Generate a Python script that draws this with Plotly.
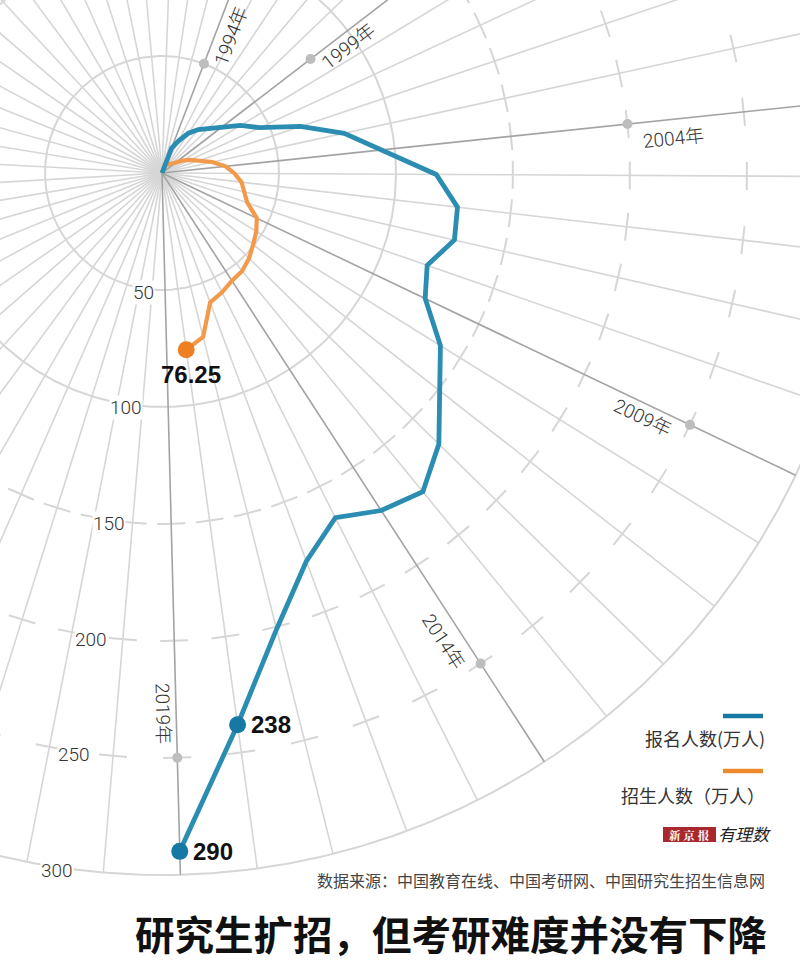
import numpy as np
import plotly.graph_objects as go

# ---------------- data ----------------
years_apply = list(range(1994, 2020))
applicants = [11.4, 15.5, 20.4, 24.2, 27.4, 31.9, 39.2, 46.0, 62.4, 79.7,
              94.5, 117.2, 127.12, 128.2, 120.0, 124.6, 140.0, 151.1, 165.6, 176.0,
              172.0, 164.9, 177.0, 201.0, 238.0, 290.0]
years_enroll = list(range(1994, 2019))
enrolled = [4.1, 4.1, 4.7, 5.1, 5.75, 7.2, 10.3, 13.3, 16.4, 22.0,
            27.3, 31.0, 34.2, 36.1, 38.6, 44.9, 47.4, 49.5, 52.1, 54.1,
            54.9, 57.1, 59.0, 72.2, 76.25]

tick_years = [1994, 1999, 2004, 2009, 2014, 2019]
tick_labels = ["1994年", "1999年", "2004年", "2009年", "2014年", "2019年"]
radial_ticks = [50, 100, 150, 200, 250, 300]
radial_labels = ["50", "100", "150", "200", "250", "300"]
solid_rings = [50, 100, 300]
dashed_rings = [150, 200, 250]

highlight_apply_years = [2018, 2019]
highlight_enroll_years = [2018]

# ---------------- geometry / style ----------------
W, H = 800, 974
CX, CY = 162, 173          # pole position (px)
PX = 2.34                  # px per unit of radius
YEAR0, THETA0 = 1994, 21.0
DTH = 6.3                  # degrees per year
R_MAX = 300

# dot radius (units) and label placement (along px, perpendicular px) per tick year
tick_dot_r = [50, 80, 200, 250, 250, 250]
tick_lab_along = [153, 225, 512, 539, 546, 540]
tick_lab_perp = [16, 13, 19, 14, 19, 13]

BLUE_LINE = "#2b8db1"
BLUE_DOT = "#1679a4"
ORANGE_LINE = "#f29a4a"
ORANGE_DOT = "#ee7f22"
GRID = "#d6d6d6"
GRID_DARK = "#a3a3a3"
TXT = "#333333"
NUM_FONT = "Roboto, Liberation Sans, Arial, Noto Sans CJK SC, sans-serif"
BOLD_FONT = "Liberation Sans, Arial, sans-serif"
CJK_FONT = "Noto Sans CJK SC, sans-serif"


def theta_of(year):
    return THETA0 + (np.asarray(year, float) - YEAR0) * DTH


def pxy(r, th):
    t = np.radians(np.asarray(th, float))
    r = np.asarray(r, float)
    return r * np.sin(t), r * np.cos(t)


fig = go.Figure()

# spokes (one per year, all the way round)
ks = np.arange(-3, 54)
spoke_years = YEAR0 + ks
lx, ly = [], []
dx_, dy_ = [], []
for yr in spoke_years:
    x1, y1 = pxy(R_MAX, theta_of(yr))
    if yr in tick_years:
        dx_ += [0, float(x1), None]
        dy_ += [0, float(y1), None]
    else:
        lx += [0, float(x1), None]
        ly += [0, float(y1), None]
fig.add_trace(go.Scatter(x=lx, y=ly, mode="lines", line=dict(color=GRID, width=1.6),
                         hoverinfo="skip", showlegend=False))

# solid rings
ang = np.linspace(0, 360, 721)
for rr in solid_rings:
    x, y = pxy(np.full_like(ang, rr), ang)
    fig.add_trace(go.Scatter(x=x, y=y, mode="lines", line=dict(color=GRID, width=2),
                             hoverinfo="skip", showlegend=False))

# dashed rings: dashes centred on spokes
DASH_PX = 28
for rr in dashed_rings:
    h = np.degrees((DASH_PX / 2) / (rr * PX))
    xs, ys = [], []
    for yr in spoke_years:
        th = theta_of(yr)
        a = np.linspace(th - h, th + h, 9)
        x, y = pxy(np.full_like(a, rr), a)
        xs += list(x) + [None]
        ys += list(y) + [None]
    fig.add_trace(go.Scatter(x=xs, y=ys, mode="lines", line=dict(color=GRID, width=2),
                             hoverinfo="skip", showlegend=False))

# dark spokes
fig.add_trace(go.Scatter(x=dx_, y=dy_, mode="lines", line=dict(color=GRID_DARK, width=1.6),
                         hoverinfo="skip", showlegend=False))

# tick dots
tdx, tdy = pxy(tick_dot_r, theta_of(tick_years))
fig.add_trace(go.Scatter(x=tdx, y=tdy, mode="markers",
                         marker=dict(color="#bdbdbd", size=10),
                         hoverinfo="skip", showlegend=False))

# enrolled line (orange)
ex, ey = pxy(enrolled, theta_of(years_enroll))
fig.add_trace(go.Scatter(x=np.concatenate([[0], ex]), y=np.concatenate([[0], ey]),
                         mode="lines", line=dict(color=ORANGE_LINE, width=4.2),
                         hoverinfo="skip", showlegend=False))
# applicants line (blue)
ax_, ay_ = pxy(applicants, theta_of(years_apply))
fig.add_trace(go.Scatter(x=np.concatenate([[0], ax_]), y=np.concatenate([[0], ay_]),
                         mode="lines", line=dict(color=BLUE_LINE, width=4.8),
                         hoverinfo="skip", showlegend=False))

# highlight markers
he = [enrolled[years_enroll.index(y)] for y in highlight_enroll_years]
hx, hy = pxy(he, theta_of(highlight_enroll_years))
fig.add_trace(go.Scatter(x=hx, y=hy, mode="markers", marker=dict(color=ORANGE_DOT, size=17),
                         hoverinfo="skip", showlegend=False))
ha = [applicants[years_apply.index(y)] for y in highlight_apply_years]
bx, by = pxy(ha, theta_of(highlight_apply_years))
fig.add_trace(go.Scatter(x=bx, y=by, mode="markers", marker=dict(color=BLUE_DOT, size=17),
                         hoverinfo="skip", showlegend=False))

ann = []
# value labels
for v, x, y in zip(ha, bx, by):
    ann.append(dict(x=x, y=y, xref="x", yref="y", text=f"<b>{v:g}</b>", showarrow=False,
                    xanchor="left", yanchor="middle", xshift=11, yshift=0,
                    font=dict(family=BOLD_FONT, size=24, color="#111")))
for v, x, y in zip(he, hx, hy):
    ann.append(dict(x=x, y=y, xref="x", yref="y", text=f"<b>{v:g}</b>", showarrow=False,
                    xanchor="center", yanchor="middle", xshift=5, yshift=-25,
                    font=dict(family=BOLD_FONT, size=24, color="#111")))

# year labels
for yr, lab, al, pp in zip(tick_years, tick_labels, tick_lab_along, tick_lab_perp):
    th = float(theta_of(yr))
    t = np.radians(th)
    ux, uy = np.sin(t), np.cos(t)
    px_, py_ = np.cos(t), -np.sin(t)
    x = (al * ux + pp * px_) / PX
    y = (al * uy + pp * py_) / PX
    ann.append(dict(x=x, y=y, xref="x", yref="y", text=lab, showarrow=False,
                    textangle=th - 90, xanchor="center", yanchor="middle",
                    font=dict(family=NUM_FONT, size=19, color=TXT, weight=300)))

# radial labels
for v, lab in zip(radial_ticks, radial_labels):
    x, y = pxy(v + 1.5, 188.6)
    ann.append(dict(x=float(x), y=float(y), xref="x", yref="y", text=lab, showarrow=False,
                    xanchor="center", yanchor="middle", bgcolor="white", borderpad=0,
                    font=dict(family=NUM_FONT, size=19, color=TXT, weight=300)))


def P(xp, yp):
    return xp / W, 1 - yp / H


# legend
shapes = []
for yp, col, lab, ty in [(716, BLUE_DOT, "报名人数(万人)", 738),
                          (771, "#ee8a2e", "招生人数（万人）", 795)]:
    x0, y0 = P(723, yp)
    x1, _ = P(763, yp)
    shapes.append(dict(type="line", xref="paper", yref="paper", x0=x0, x1=x1, y0=y0, y1=y0,
                       line=dict(color=col, width=4.5)))
    xx, yy = P(767, ty)
    ann.append(dict(x=xx, y=yy, xref="paper", yref="paper", text=lab, showarrow=False,
                    xanchor="right", yanchor="middle",
                    font=dict(family=CJK_FONT, size=18, color=TXT)))

# logo
x0, y0 = P(663, 827)
x1, y1 = P(716, 842)
shapes.append(dict(type="rect", xref="paper", yref="paper", x0=x0, x1=x1, y0=y1, y1=y0,
                   fillcolor="#a8282d", line=dict(width=0)))
xx, yy = P(689.5, 834.5)
ann.append(dict(x=xx, y=yy, xref="paper", yref="paper", text="<b>新 京 报</b>", showarrow=False,
                xanchor="center", yanchor="middle",
                font=dict(family="Noto Serif CJK SC, Noto Sans CJK SC, serif", size=11.5, color="white")))
xx, yy = P(744, 833)
ann.append(dict(x=xx, y=yy, xref="paper", yref="paper", text="<i>有理数</i>", showarrow=False,
                xanchor="center", yanchor="middle",
                font=dict(family=CJK_FONT, size=17, color="#222")))

# source
xx, yy = P(767, 880)
ann.append(dict(x=xx, y=yy, xref="paper", yref="paper",
                text="数据来源：中国教育在线、中国考研网、中国研究生招生信息网", showarrow=False,
                xanchor="right", yanchor="middle",
                font=dict(family=CJK_FONT, size=16, color="#444")))
# title
xx, yy = P(769, 932)
ann.append(dict(x=xx, y=yy, xref="paper", yref="paper",
                text="<b>研究生扩招，但考研难度并没有下降</b>", showarrow=False,
                xanchor="right", yanchor="middle",
                font=dict(family=CJK_FONT, size=39.5, color="#111")))

fig.update_layout(
    width=W, height=H,
    margin=dict(l=0, r=0, t=0, b=0),
    paper_bgcolor="white", plot_bgcolor="white",
    xaxis=dict(range=[-CX / PX, (W - CX) / PX], visible=False, fixedrange=True),
    yaxis=dict(range=[-(H - CY) / PX, CY / PX], visible=False, fixedrange=True),
    annotations=ann, shapes=shapes, showlegend=False,
)

fig.write_html("out.html", config={"displayModeBar": False},
               post_script="document.body.style.margin='0';document.body.style.overflow='hidden';")
